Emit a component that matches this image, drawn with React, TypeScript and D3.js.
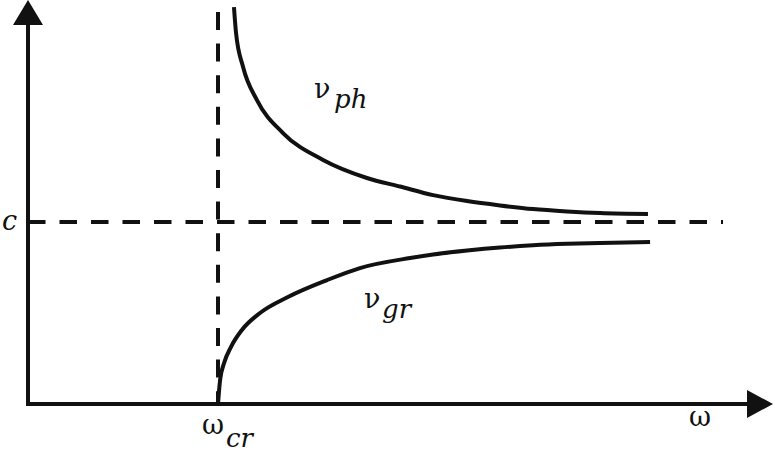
import React from "react";
import * as d3 from "d3";

// Frequency in units of ω_cr, velocity in units of c
const phOmega = [1.084, 1.095, 1.132, 1.205, 1.342, 1.553, 1.784, 1.958, 2.132, 2.311, 2.484, 2.658, 2.837, 3.011, 3.263];
const phV = [2.181, 2.038, 1.852, 1.67, 1.489, 1.341, 1.242, 1.195, 1.148, 1.115, 1.091, 1.071, 1.058, 1.049, 1.044];
const grOmega = [1.0, 1.011, 1.032, 1.068, 1.126, 1.221, 1.368, 1.574, 1.747, 2.011, 2.132, 2.311, 2.484, 2.658, 2.837, 3.011, 3.274];
const grV = [0, 0.132, 0.225, 0.313, 0.407, 0.5, 0.588, 0.681, 0.747, 0.802, 0.821, 0.843, 0.86, 0.872, 0.88, 0.885, 0.89];
const omegaCr = 1;
const cLevel = 1;
const cLineEnd = 3.658;
const omegaMax = 3.921;
const vMax = 2.22;
const vCrTop = 2.154;

const W = 775;
const H = 454;

export default function App() {
  const x = d3.scaleLinear().domain([0, omegaMax]).range([28, 773]);
  const y = d3.scaleLinear().domain([0, vMax]).range([404, 0]);

  const line = d3
    .line<[number, number]>()
    .x((d) => x(d[0]))
    .y((d) => y(d[1]))
    .curve(d3.curveMonotoneX);

  const phPts: [number, number][] = phOmega.map((o, i) => [o, phV[i]]);
  const grPts: [number, number][] = grOmega.map((o, i) => [o, grV[i]]);

  const x0 = x(0);
  const y0 = y(0);
  const xEnd = x(omegaMax);
  const yTop = y(vMax);
  const font = "'DejaVu Serif', 'Liberation Serif', serif";
  const ts = { fontFamily: font } as React.CSSProperties;

  return (
    <svg
      width={W}
      height={H}
      style={{ position: "absolute", left: 0, top: 0, background: "#fff" }}
    >
      {/* axes */}
      <line x1={x0} y1={y0 + 2} x2={x0} y2={yTop + 24} stroke="#111" strokeWidth={4} />
      <line x1={x0 - 2} y1={y0} x2={xEnd - 24} y2={y0} stroke="#111" strokeWidth={4} />
      <path d={`M${x0},${yTop} L${x0 - 15},${yTop + 25} L${x0 + 15},${yTop + 25} Z`} fill="#111" />
      <path d={`M${xEnd},${y0} L${xEnd - 26},${y0 - 14} L${xEnd - 26},${y0 + 14} Z`} fill="#111" />

      {/* dashed reference lines */}
      <line
        x1={x0}
        y1={y(cLevel)}
        x2={x(cLineEnd)}
        y2={y(cLevel)}
        stroke="#111"
        strokeWidth={4}
        strokeDasharray="17.5 14"
      />
      <line
        x1={x(omegaCr)}
        y1={y(vCrTop)}
        x2={x(omegaCr)}
        y2={y0}
        stroke="#111"
        strokeWidth={4}
        strokeDasharray="18 13.6"
      />

      {/* curves */}
      <path d={line(phPts) || ""} fill="none" stroke="#111" strokeWidth={4} />
      <path d={line(grPts) || ""} fill="none" stroke="#111" strokeWidth={4} />

      {/* labels */}
      <text x={2} y={230} style={ts} fontStyle="italic" fontSize={27} fill="#111">
        c
      </text>
      <text x={689} y={426} style={ts} fontSize={27} fill="#111">
        ω
      </text>
      <text x={202} y={434} style={ts} fontSize={27} fill="#111">
        ω
        <tspan x={226} y={447} fontStyle="italic" fontSize={26}>
          cr
        </tspan>
      </text>
      <text x={314} y={98} style={ts} fontSize={27} fill="#111">
        ν
        <tspan x={334} y={108} fontStyle="italic" fontSize={26}>
          ph
        </tspan>
      </text>
      <text x={364} y={308} style={ts} fontSize={27} fill="#111">
        ν
        <tspan x={382} y={318} fontStyle="italic" fontSize={26}>
          gr
        </tspan>
      </text>
    </svg>
  );
}
